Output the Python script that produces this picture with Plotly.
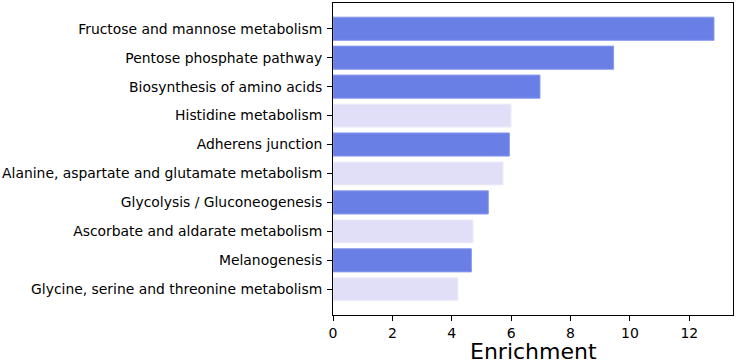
import plotly.graph_objects as go

pathways = [
    "Fructose and mannose metabolism",
    "Pentose phosphate pathway",
    "Biosynthesis of amino acids",
    "Histidine metabolism",
    "Adherens junction",
    "Alanine, aspartate and glutamate metabolism",
    "Glycolysis / Gluconeogenesis",
    "Ascorbate and aldarate metabolism",
    "Melanogenesis",
    "Glycine, serine and threonine metabolism",
]
enrichment = [12.83, 9.45, 6.97, 6.00, 5.94, 5.73, 5.23, 4.72, 4.66, 4.21]
significant = [True, True, True, False, True, False, True, False, True, False]
x_title = "Enrichment"

DARK = "#6a7fe5"
LIGHT = "#e0dff7"
colors = [DARK if s else LIGHT for s in significant]
edges = ["#8b9bed" if s else "#f2f1fc" for s in significant]

fig = go.Figure(
    go.Bar(
        x=enrichment,
        y=pathways,
        orientation="h",
        width=0.8,
        marker=dict(color=colors, line=dict(color=edges, width=1)),
        hoverinfo="x+y",
    )
)

font_family = "DejaVu Sans"
fig.update_layout(
    width=736,
    height=363,
    margin=dict(l=333, r=3, t=3, b=48, autoexpand=False),
    plot_bgcolor="white",
    paper_bgcolor="white",
    showlegend=False,
    font=dict(family=font_family, size=14, color="black"),
    bargap=0.2,
    annotations=[
        dict(
            text=x_title,
            xref="paper",
            yref="paper",
            x=0.5,
            y=-0.118,
            xanchor="center",
            yanchor="middle",
            showarrow=False,
            font=dict(size=22, family=font_family, color="black"),
        )
    ],
)
fig.update_xaxes(
    range=[0, 13.47],
    tickvals=[0, 2, 4, 6, 8, 10, 12],
    ticks="outside",
    ticklen=5,
    tickwidth=1,
    tickcolor="black",
    showline=True,
    linecolor="black",
    linewidth=1,
    mirror=True,
    showgrid=False,
    zeroline=False,
    automargin=False,
    tickfont=dict(size=14),
)
fig.update_yaxes(
    categoryorder="array",
    categoryarray=list(reversed(pathways)),
    range=[-0.89, 9.89],
    ticks="outside",
    ticklen=5,
    tickwidth=1,
    tickcolor="black",
    showline=True,
    linecolor="black",
    linewidth=1,
    mirror=True,
    showgrid=False,
    zeroline=False,
    automargin=False,
    tickfont=dict(size=13.9),
    ticklabelstandoff=2,
)

fig.write_html(
    "out.html",
    config={"displayModeBar": False},
    post_script="document.body.style.margin='0';document.body.style.padding='0';",
)
